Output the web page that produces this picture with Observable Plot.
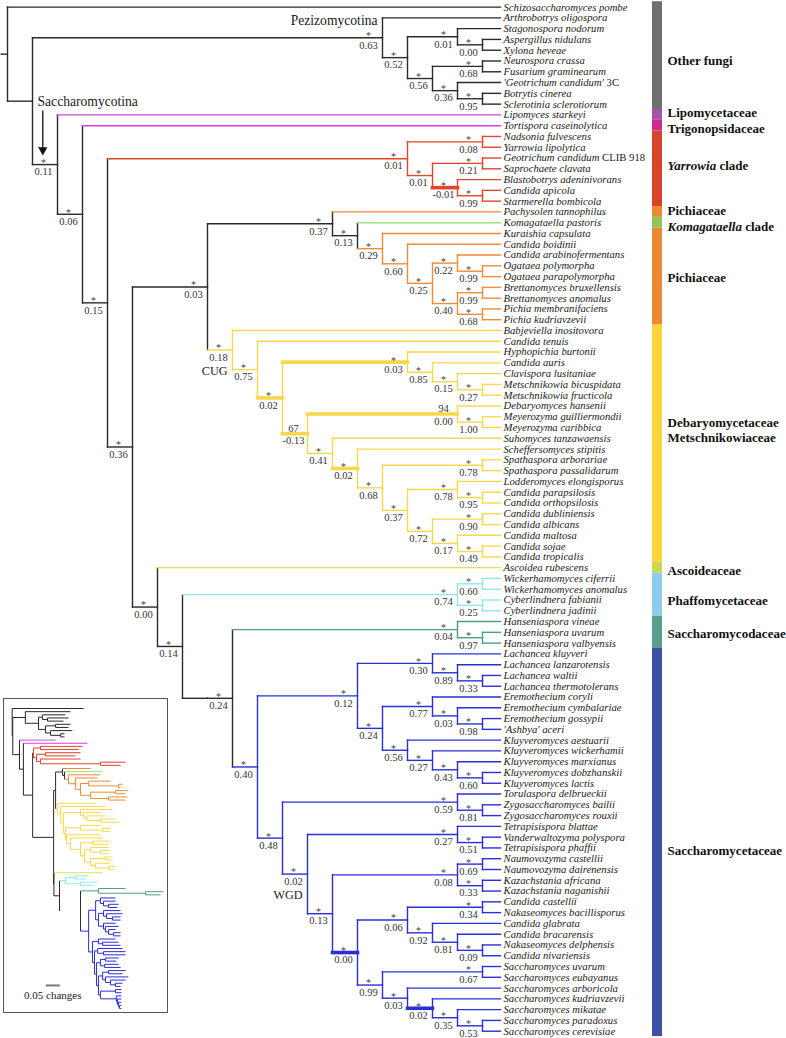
<!DOCTYPE html>
<html><head><meta charset="utf-8">
<script src="https://cdn.jsdelivr.net/npm/d3@7"></script>
<script src="https://cdn.jsdelivr.net/npm/@observablehq/plot@0.6"></script>
<style>
body{margin:0;background:#fff}
#wrap{position:relative;width:786px;height:1038px;overflow:hidden;background:#fff}
#inset{position:absolute;left:3px;top:698px;width:163px;height:313px;border:1px solid #555;background:#fff}
</style></head><body><div id="wrap"><div id="main"></div><div id="inset"></div></div>
<script>
// ---------------- DATA ----------------
const species = [
"Schizosaccharomyces pombe","Arthrobotrys oligospora","Stagonospora nodorum","Aspergillus nidulans","Xylona heveae","Neurospora crassa","Fusarium graminearum","'Geotrichum candidum'| 3C","Botrytis cinerea","Sclerotinia sclerotiorum",
"Lipomyces starkeyi","Tortispora caseinolytica",
"Nadsonia fulvescens","Yarrowia lipolytica","Geotrichum candidum| CLIB 918","Saprochaete clavata","Blastobotrys adeninivorans","Candida apicola","Starmerella bombicola",
"Pachysolen tannophilus","Komagataella pastoris","Kuraishia capsulata","Candida boidinii","Candida arabinofermentans","Ogataea polymorpha","Ogataea parapolymorpha","Brettanomyces bruxellensis","Brettanomyces anomalus","Pichia membranifaciens","Pichia kudriavzevii",
"Babjeviella inositovora","Candida tenuis","Hyphopichia burtonii","Candida auris","Clavispora lusitaniae","Metschnikowia bicuspidata","Metschnikowia fructicola","Debaryomyces hansenii","Meyerozyma guilliermondii","Meyerozyma caribbica","Suhomyces tanzawaensis","Scheffersomyces stipitis","Spathaspora arborariae","Spathaspora passalidarum","Lodderomyces elongisporus","Candida parapsilosis","Candida orthopsilosis","Candida dubliniensis","Candida albicans","Candida maltosa","Candida sojae","Candida tropicalis",
"Ascoidea rubescens","Wickerhamomyces ciferrii","Wickerhamomyces anomalus","Cyberlindnera fabianii","Cyberlindnera jadinii","Hanseniaspora vineae","Hanseniaspora uvarum","Hanseniaspora valbyensis",
"Lachancea kluyveri","Lachancea lanzarotensis","Lachancea waltii","Lachancea thermotolerans","Eremothecium coryli","Eremothecium cymbalariae","Eremothecium gossypii","'Ashbya' aceri","Kluyveromyces aestuarii","Kluyveromyces wickerhamii","Kluyveromyces marxianus","Kluyveromyces dobzhanskii","Kluyveromyces lactis","Torulaspora delbrueckii","Zygosaccharomyces bailii","Zygosaccharomyces rouxii","Tetrapisispora blattae","Vanderwaltozyma polyspora","Tetrapisispora phaffii","Naumovozyma castellii","Naumovozyma dairenensis","Kazachstania africana","Kazachstania naganishii","Candida castellii","Nakaseomyces bacillisporus","Candida glabrata","Candida bracarensis","Nakaseomyces delphensis","Candida nivariensis","Saccharomyces uvarum","Saccharomyces eubayanus","Saccharomyces arboricola","Saccharomyces kudriavzevii","Saccharomyces mikatae","Saccharomyces paradoxus","Saccharomyces cerevisiae"];

// clades (right-hand bar)
const cladeNames = ["Other fungi","Lipomycetaceae","Trigonopsidaceae","Yarrowia| clade","Pichiaceae","Komagataella| clade","Pichiaceae","Debaryomycetaceae\nMetschnikowiaceae","Ascoideaceae","Phaffomycetaceae","Saccharomycodaceae","Saccharomycetaceae"];
const cladeFirst = [0,10,11,12,19,20,21,30,52,53,57,60];
const cladeLast  = [9,10,11,18,19,20,29,51,52,56,59,95];
const barColors  = ["#6f6f6f","#a653a8","#d12a8e","#d8442a","#e98a33","#8dc65b","#e98a33","#fbd43b","#c7d94c","#8dccea","#5a9e8f","#3d51a3"];
const lineColors = ["#2a2a2a","#c94fd0","#e03be0","#e2452b","#ee8d35","#9be080","#ee8d35","#f8d84a","#e6e04c","#8ee6f0","#4f9d8c","#2b2fd6"];

// topology: leaf index : inset depth (changes); internal [support|value|note], ^ = emphasized branch
const PEZ = "(1:0.208,((2:0.190,(3:0.201,4:0.183)[*|0.00]:0.126)[*|0.01]:0.108,((5:0.208,6:0.201)[*|0.68]:0.155,(7:0.215,(8:0.187,9:0.187)[*|0.95]:0.173)[*|0.36]:0.137)[*|0.56]:0.119)[*|0.52]:0.094)[*|0.63|Pezizomycotina]:0.047";
const YAR = "((12:0.251,13:0.237)[*|0.08]:0.101,((14:0.244,15:0.226)[*|0.21]:0.119,(16:0.244,(17:0.405,18:0.387)[*|0.99]:0.315)[*|-0.01]^:0.101)[*|0.01]:0.087)[*|0.01]:0.076";
const PIC = "(19:0.280,(20:0.323,(21:0.315,(22:0.305,((23:0.351,(24:0.394,25:0.387)[*|0.99]:0.380)[*|0.22]:0.273,((26:0.415,27:0.405)[*|0.99]:0.369,(28:0.412,29:0.405)[*|0.68]:0.344)[*|0.40]:0.280)[*|0.25]:0.244)[*|0.60]:0.226)[*|0.29]:0.201)[*|0.13]:0.187)[*|0.37]:0.180";
const HYP = "(32:0.358,(33:0.315,(34:0.333,(35:0.369,36:0.380)[*|0.27]:0.315)[*|0.15]:0.266)[*|0.85]:0.255)[*|0.03]^:0.244";
const DEB = "((37:0.315,(38:0.351,39:0.351)[*|1.00]:0.323)[94|0.00]^:0.244,(40:0.315,(41:0.323,((42:0.351,43:0.344)[*|0.78]:0.287,((44:0.344,(45:0.351,46:0.344)[*|0.95]:0.315)[*|0.78]:0.280,((47:0.358,48:0.358)[*|0.90]:0.333,(49:0.351,(50:0.369,51:0.362)[*|0.49]:0.344)[*|0.17]:0.298)[*|0.72]:0.280)[*|0.37]:0.258)[*|0.68]:0.244)[*|0.02]^:0.208)[*|0.41]:0.194)[67|-0.13]^:0.190";
const CUG = `(30:0.298,(31:0.333,(${HYP},${DEB})[*|0.02]^:0.183)[*|0.75]:0.173)[*|0.18|CUG]:0.162`;
const PHA = "((53:0.273,54:0.262)[*|0.60]:0.226,(55:0.305,56:0.290)[*|0.25]:0.244)[*|0.74]:0.190";
const HAN = "(57:0.405,(58:0.540,59:0.530)[*|0.97]:0.476)[*|0.04]:0.308";
const KLU = "((60:0.369,(61:0.369,(62:0.380,63:0.376)[*|0.33]:0.344)[*|0.89]:0.326)[*|0.30]:0.315,((64:0.387,(65:0.394,(66:0.387,67:0.387)[*|0.98]:0.358)[*|0.03]:0.337)[*|0.77]:0.326,(68:0.369,(69:0.380,(70:0.369,(71:0.387,72:0.387)[*|0.60]:0.362)[*|0.43]:0.344)[*|0.27]:0.333)[*|0.56]:0.326)[*|0.24]:0.308)[*|0.12]:0.298";
const NAK = "((83:0.405,84:0.394)[*|0.34]:0.344,(85:0.415,(86:0.405,(87:0.394,88:0.387)[*|0.09]:0.369)[*|0.81]:0.351)[*|0.92]:0.333)[*|0.06]:0.323";
const SAC_SS = "((89:0.390,90:0.390)[*|0.67]:0.369,(91:0.390,(92:0.390,(93:0.390,(94:0.390,95:0.390)[*|0.53]:0.383)[*|0.35]:0.380)[*|0.02]^:0.376)[*|0.03]:0.372)[*|0.99]:0.315";
const WGD = `(((79:0.380,80:0.372)[*|0.69]:0.333,(81:0.380,82:0.387)[*|0.33]:0.330)[*|0.08]:0.315,(${NAK},${SAC_SS})[*|0.00]^:0.308)[*|0.13]:0.301`;
const ZYG = `((73:0.369,(74:0.380,75:0.387)[*|0.81]:0.323)[*|0.59]:0.308,((76:0.394,(77:0.405,78:0.405)[*|0.51]:0.326)[*|0.27]:0.305,${WGD})[*|0.02|WGD]:0.294)[*|0.48]:0.287`;
const SCE = `((${HAN},(${KLU},${ZYG})[*|0.40]:0.273)[*|0.24]:0.244`;
const ASC = `(52:0.323,(${PHA},${SCE}))[*|0.14]:0.169)[*|0.00]:0.149`;
const SACCHAROMYCOTINA = `(10:0.155,(11:0.269,(${YAR},((${PIC},${CUG})[*|0.03]:0.155,${ASC})[*|0.36]:0.148)[*|0.15]:0.073)[*|0.06]:0.040)[*|0.11|Saccharomycotina]:0.026`;
const topology = `(0:0.255,(${PEZ},${SACCHAROMYCOTINA}):0.002):0`;

// ---------------- TREE ----------------
function parseTree(src) {
  const s = src.replace(/\s+/g, "");
  let i = 0;
  const num = () => { let j = i; while (j < s.length && /[0-9.\-]/.test(s[j])) j++; const v = +s.slice(i, j); i = j; return v; };
  function node() {
    const n = {children: []};
    if (s[i] === "(") {
      i++;
      n.children.push(node());
      while (s[i] === ",") { i++; n.children.push(node()); }
      i++;
      if (s[i] === "[") { const j = s.indexOf("]", i); const p = s.slice(i + 1, j).split("|"); n.support = p[0]; n.value = p[1]; n.note = p[2]; i = j + 1; }
      if (s[i] === "^") { n.thick = true; i++; }
    } else n.leaf = num();
    if (s[i] === ":") { i++; n.depth = num(); }
    return n;
  }
  return node();
}
const root = parseTree(topology);
const nodes = [];
(function walk(n, p) { n.parent = p; nodes.push(n); n.children.forEach(c => walk(c, n)); })(root, null);

const leafClade = species.map((_, k) => cladeFirst.findIndex((f, c) => k >= f && k <= cladeLast[c]));
const BLACK = "#2a2a2a";
(function post(n) {
  if (n.leaf !== undefined) { n.h = 0; n.y = n.leaf; n.color = lineColors[leafClade[n.leaf]]; return; }
  n.children.forEach(post);
  n.h = 1 + d3.max(n.children, c => c.h);
  n.y = (n.children[0].y + n.children[n.children.length - 1].y) / 2;
  const cs = new Set(n.children.map(c => c.color));
  n.color = cs.size === 1 ? [...cs][0] : BLACK;
})(root);
const LEAF_LEVEL = 19.72;
nodes.forEach(n => n.level = n.leaf !== undefined ? LEAF_LEVEL : root.h - n.h);
const edges = nodes.filter(n => n.parent);
const internals = nodes.filter(n => n.children.length);
const leaves = nodes.filter(n => n.leaf !== undefined);

// ---------------- STYLE ----------------
const SERIF = '"Liberation Serif", "Times New Roman", Times, serif';
const LEAF_FS = 10.7, NODE_FS = 10.5, CLADE_FS = 13;
const TEXT = "#1a1a1a";
const ROWPX = (1030.7 - 6.6) / 95;
const BAR_L1 = (652 - 7) / 25, BAR_L2 = (662 - 7) / 25, LABEL_L = (667 - 7) / 25;
const labelShift = [0.45, -0.22, 0.28, -0.3, -0.2, 0.4, 0.05, -1.32, 0.26, 0.5, 0.07, 0.74];

const ctx = document.createElement("canvas").getContext("2d");
const textWidth = (t, font) => { ctx.font = font; return ctx.measureText(t).width; };

// leaf names (italic, with roman suffixes)
const leafMarks = [
  Plot.text(leaves, {x: "level", y: "y", text: d => species[d.leaf].split("|")[0], dx: 3, textAnchor: "start",
    fontStyle: "italic", fontSize: LEAF_FS, fontFamily: SERIF, fill: TEXT})
];
leaves.filter(d => species[d.leaf].includes("|")).forEach(d => {
  const [it, ro] = species[d.leaf].split("|");
  const w = textWidth(it + " ", `italic ${LEAF_FS}px ${SERIF}`);
  leafMarks.push(Plot.text([d], {x: "level", y: "y", text: () => ro.trim(), dx: 3 + w, textAnchor: "start",
    fontSize: LEAF_FS, fontFamily: SERIF, fill: TEXT}));
});

// clade labels
const cladeIdx = d3.range(cladeNames.length);
const cladeMarks = [];
cladeIdx.forEach(i => {
  const parts = cladeNames[i].split("|");
  const yy = (cladeFirst[i] + cladeLast[i]) / 2 + labelShift[i];
  if (parts.length === 1) {
    cladeMarks.push(Plot.text([i], {x: () => LABEL_L, y: () => yy, text: () => parts[0], textAnchor: "start",
      fontWeight: "bold", fontSize: CLADE_FS, fontFamily: SERIF, fill: "#111", lineHeight: 1.15}));
  } else {
    const w = textWidth(parts[0] + " ", `italic bold ${CLADE_FS}px ${SERIF}`);
    cladeMarks.push(Plot.text([i], {x: () => LABEL_L, y: () => yy, text: () => parts[0], textAnchor: "start",
      fontWeight: "bold", fontStyle: "italic", fontSize: CLADE_FS, fontFamily: SERIF, fill: "#111"}));
    cladeMarks.push(Plot.text([i], {x: () => LABEL_L, y: () => yy, text: () => parts[1].trim(), dx: w, textAnchor: "start",
      fontWeight: "bold", fontSize: CLADE_FS, fontFamily: SERIF, fill: "#111"}));
  }
});

// annotations
const pez = internals.find(n => n.note === "Pezizomycotina");
const sacA = internals.find(n => n.note === "Saccharomycotina");
const sacP = sacA.parent;
const arrowX = sacP.level + 10.3 / 25;
const headBase = sacA.y - 17 / ROWPX, headTip = sacA.y - 9.5 / ROWPX, halfW = 4.2 / 25;
const noteNodes = internals.filter(n => n.note === "CUG" || n.note === "WGD");

const main = Plot.plot({
  width: 786, height: 1038, margin: 0,
  x: {domain: [0, 19], range: [7, 482], axis: null},
  y: {domain: [0, 95], range: [6.6, 1030.7], axis: null},
  color: {type: "identity"},
  style: {fontFamily: SERIF, background: "white"},
  marks: [
    // verticals
    Plot.link(internals, {x1: "level", x2: "level", y1: d => d.children[0].y, y2: d => d.children[d.children.length - 1].y,
      stroke: d => d.color, strokeWidth: 1.4, strokeLinecap: "square"}),
    // horizontals
    Plot.link(edges, {x1: d => d.parent.level, x2: "level", y1: "y", y2: "y",
      stroke: d => d.color, strokeWidth: d => d.thick ? 3.6 : 1.4, strokeLinecap: "square"}),
    // root stub
    Plot.link([root], {x1: () => -0.28, x2: "level", y1: "y", y2: "y", stroke: BLACK, strokeWidth: 1.4}),
    // support and values
    Plot.text(internals.filter(n => n.support === "*"), {x: "level", y: "y", text: () => "*", dx: -14, dy: -1.8,
      fontSize: 10, fontFamily: SERIF, fill: "#444"}),
    Plot.text(internals.filter(n => n.support && n.support !== "*"), {x: "level", y: "y", text: "support", dx: -14, dy: -5.4,
      fontSize: NODE_FS, fontFamily: SERIF, fill: "#333"}),
    Plot.text(internals.filter(n => n.value), {x: "level", y: "y", text: "value", dx: -14, dy: 7.4,
      fontSize: NODE_FS, fontFamily: SERIF, fill: "#333"}),
    // clade annotations on the tree
    Plot.text([pez], {x: "level", y: "y", text: () => "Pezizomycotina", dx: -5, dy: -17.4, textAnchor: "end",
      fontSize: 13.6, fontFamily: SERIF, fill: TEXT}),
    Plot.text([sacP], {x: "level", y: "y", text: () => "Saccharomycotina", dx: 5, dy: 0, textAnchor: "start",
      fontSize: 13.6, fontFamily: SERIF, fill: TEXT}),
    Plot.link([sacA], {x1: () => arrowX, x2: () => arrowX, y1: d => d.y - 54 / ROWPX, y2: () => headBase + 0.1,
      stroke: "#111", strokeWidth: 1.3}),
    Plot.line([[arrowX - halfW, headBase], [arrowX + halfW, headBase], [arrowX, headTip], [arrowX - halfW, headBase]],
      {x: d => d[0], y: d => d[1], fill: "#111", stroke: "#111", strokeWidth: 0.5}),
    Plot.text(noteNodes, {x: "level", y: "y", text: "note", dx: -5, dy: 21, textAnchor: "end",
      fontSize: 12.2, fontFamily: SERIF, fill: TEXT}),
    // leaf names
    ...leafMarks,
    // clade bar
    Plot.rect(cladeIdx, {x1: () => BAR_L1, x2: () => BAR_L2, y1: i => cladeFirst[i] - 0.5, y2: i => cladeLast[i] + 0.5,
      fill: i => barColors[i]}),
    ...cladeMarks
  ]
});
document.getElementById("main").appendChild(main);

// ---------------- INSET (phylogram) ----------------
const inset = Plot.plot({
  width: 163, height: 313, margin: 0,
  x: {domain: [0, 0.55], range: [7.7, 161.7], axis: null},
  y: {domain: [0, 95], range: [9, 309], axis: null},
  color: {type: "identity"},
  style: {fontFamily: SERIF, background: "white"},
  marks: [
    Plot.link(internals, {x1: "depth", x2: "depth", y1: d => d.children[0].y, y2: d => d.children[d.children.length - 1].y,
      stroke: d => d.color, strokeWidth: 1}),
    Plot.link(edges, {x1: d => d.parent.depth, x2: "depth", y1: "y", y2: "y", stroke: d => d.color, strokeWidth: 1}),
    Plot.link([0.05], {x1: () => 0.12, x2: d => 0.12 + d, y1: () => 87.7, y2: () => 87.7, stroke: "#777", strokeWidth: 2}),
    Plot.text([0.05], {x: () => 0.145, y: () => 90.9, text: d => `${d.toFixed(2)} changes`, fontSize: 11, fontFamily: SERIF, fill: TEXT})
  ]
});
document.getElementById("inset").appendChild(inset);
</script></body></html>
